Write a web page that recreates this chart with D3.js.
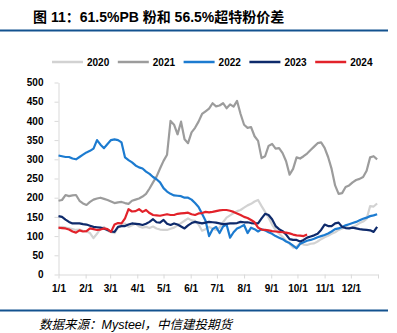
<!DOCTYPE html>
<html>
<head>
<meta charset="utf-8">
<script src="https://cdn.jsdelivr.net/npm/d3@7"></script>
<style>
  body { margin: 0; background: #fff; }
  svg { display: block; }
</style>
</head>
<body>
<svg id="chart" width="397" height="333"></svg>
<script>
// Spread between 61.5% PB fines and 56.5% super special fines, one line per year.
// Values are sampled every 4 days from Jan 1.
const seriesYears = ["2020", "2021", "2022", "2023", "2024"];
const seriesColors = ["#d2d2d2", "#9c9c9c", "#1c7bd0", "#0e2a6b", "#e2222a"];
const sampleStepDays = 4;

const spread2020 = [
  120,124,122,120,118,116,117,114,112,108,
  95,106,120,124,114,110,108,122,128,133,
  124,128,133,125,122,124,121,125,120,117,
  116,116,119,122,128,134,140,146,141,140,
  130,114,118,124,120,116,122,136,148,154,
  160,165,168,174,180,184,190,194,178,163,
  148,130,116,106,98,88,80,70,73,81,
  78,77,80,81,86,92,97,101,106,110,
  116,120,124,121,123,128,134,138,145,178,
  177,185
];
const spread2021 = [
  192,194,207,204,206,207,192,185,181,189,
  195,198,200,197,194,190,186,188,189,186,
  184,192,195,198,203,210,224,240,255,276,
  296,312,400,390,365,398,352,342,370,382,
  398,418,425,432,446,438,440,446,433,443,
  437,452,418,390,382,384,360,348,303,308,
  335,340,328,329,316,295,260,275,305,302,
  308,315,324,333,342,344,330,306,275,232,
  210,212,228,232,240,246,249,254,270,305,
  308,300
];
const spread2022 = [
  310,308,306,306,302,300,306,312,318,322,
  328,350,338,329,340,350,352,350,344,305,
  298,292,284,279,276,268,262,254,248,240,
  225,216,210,206,205,204,200,200,195,186,
  176,158,140,100,118,124,108,125,130,96,
  110,120,124,129,108,122,118,112,118,115,
  110,106,100,96,92,86,82,75,68,80,
  84,88,90,93,97,100,103,107,112,118,
  120,124,128,131,134,137,141,145,148,152,
  154,157
];
const spread2023 = [
  152,150,143,137,133,133,133,131,130,127,
  124,123,122,119,116,112,111,124,126,126,
  130,133,132,131,129,132,137,144,136,135,
  142,132,129,133,130,125,120,128,134,137,
  135,133,135,137,136,135,133,131,132,133,
  133,134,137,136,136,134,133,133,146,158,
  155,144,126,118,113,104,92,90,90,86,
  90,96,99,102,106,116,130,126,126,133,
  135,124,121,120,122,120,118,117,116,115,
  111,124
];
const spread2024 = [
  122,121,120,117,112,109,115,112,113,120,
  118,116,117,120,118,111,130,134,133,146,
  170,164,165,170,163,168,160,155,154,153,
  155,157,155,155,158,159,160,161,157,155,
  159,160,163,162,163,165,167,168,168,166,
  163,159,155,150,147,142,136,122,117,116,
  115,113,112,111,110,109,107,104,102,101,
  100,104
];
const allSpreads = [spread2020, spread2021, spread2022, spread2023, spread2024];

const yTickValues = [0, 50, 100, 150, 200, 250, 300, 350, 400, 450, 500];
const monthStartDays = [0, 31, 59, 90, 120, 151, 181, 212, 243, 273, 304, 334, 365];
const monthLabels = ["1/1", "2/1", "3/1", "4/1", "5/1", "6/1", "7/1", "8/1", "9/1", "10/1", "11/1", "12/1", ""];

const titleText = "图 11：61.5%PB 粉和 56.5%超特粉价差";
const sourceText = "数据来源：Mysteel，中信建投期货";

const svg = d3.select("#chart");
const latin = "'Liberation Sans', Arial, 'Noto Sans CJK SC', sans-serif";
const ruleColor = "#13528f";
const axisColor = "#d9d9d9";

// Header and footer
svg.append("text")
  .attr("x", 33).attr("y", 21.5)
  .attr("font-family", latin)
  .attr("font-size", 14).attr("font-weight", "bold")
  .attr("fill", "#000")
  .text(titleText);

svg.append("rect").attr("x", 0).attr("y", 29.5).attr("width", 388).attr("height", 2).attr("fill", ruleColor);
svg.append("rect").attr("x", 0).attr("y", 309.5).attr("width", 388).attr("height", 2).attr("fill", ruleColor);

svg.append("text")
  .attr("x", 39).attr("y", 329)
  .attr("font-family", latin)
  .attr("font-size", 12.5).attr("font-style", "italic")
  .attr("fill", "#000")
  .text(sourceText);

// Scales
const x = d3.scaleLinear().domain([0, 365]).range([58.5, 378]);
const y = d3.scaleLinear().domain([0, 500]).range([274.5, 82.5]);

// Axes
const yAxis = svg.append("g")
  .attr("transform", "translate(58.5,0)")
  .call(d3.axisLeft(y).tickValues(yTickValues).tickSize(4).tickSizeOuter(0).tickPadding(11));
const xAxis = svg.append("g")
  .attr("transform", "translate(0,274.5)")
  .call(d3.axisBottom(x).tickValues(monthStartDays)
    .tickFormat((d, i) => monthLabels[i]).tickSize(4).tickSizeOuter(0).tickPadding(6));

[yAxis, xAxis].forEach(g => {
  g.select(".domain").attr("stroke", axisColor);
  g.selectAll(".tick line").attr("stroke", axisColor);
  g.selectAll(".tick text")
    .attr("fill", "#000")
    .attr("font-family", latin)
    .attr("font-size", 10)
    .attr("font-weight", "bold");
});

// Lines
const line = d3.line()
  .x((d, i) => x(i * sampleStepDays))
  .y(d => y(d));

allSpreads.forEach((vals, k) => {
  svg.append("path")
    .datum(vals)
    .attr("fill", "none")
    .attr("stroke", seriesColors[k])
    .attr("stroke-width", 2.2)
    .attr("stroke-linejoin", "round")
    .attr("d", line);
});

// Legend
const legend = svg.append("g").attr("transform", "translate(52,62)");
seriesYears.forEach((yr, k) => {
  const g = legend.append("g").attr("transform", `translate(${k * 65.8},0)`);
  g.append("line").attr("x1", 0).attr("x2", 31).attr("y1", 0).attr("y2", 0)
    .attr("stroke", seriesColors[k]).attr("stroke-width", 2.5);
  g.append("text").attr("x", 35).attr("y", 3.6)
    .attr("font-family", latin).attr("font-size", 10).attr("font-weight", "bold").attr("fill", "#000")
    .text(yr);
});
</script>
</body>
</html>
